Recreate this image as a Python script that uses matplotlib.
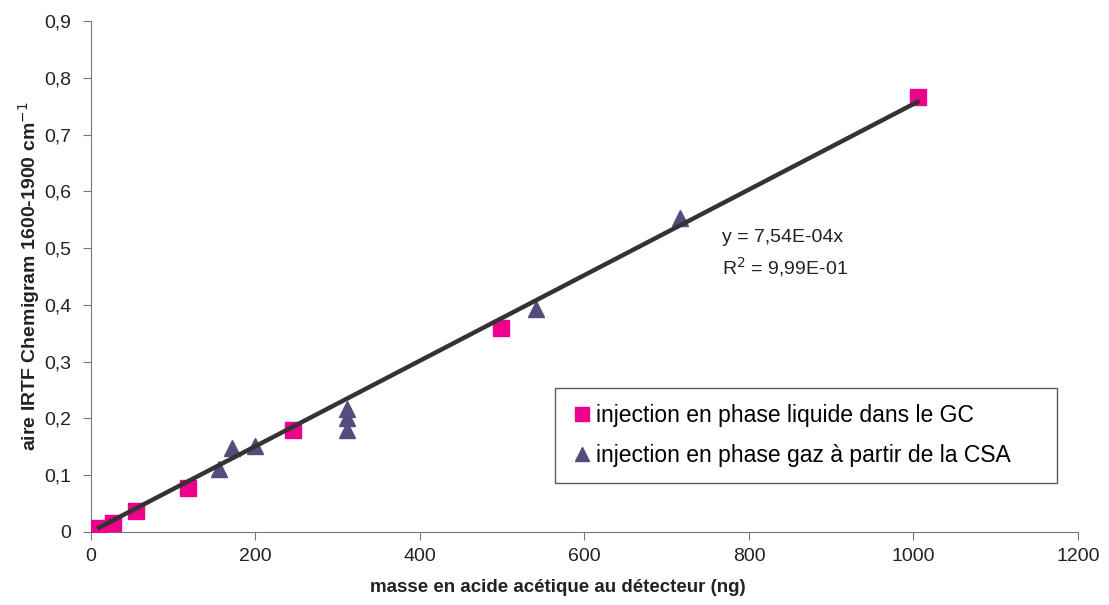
import numpy as np
import matplotlib.pyplot as plt
from matplotlib.ticker import FuncFormatter

plt.rcParams['font.family'] = ['Liberation Sans', 'DejaVu Sans']

# injection en phase liquide dans le GC
liq_x = [10, 27, 55, 118, 246, 498, 1005]
liq_y = [0.007, 0.015, 0.037, 0.077, 0.180, 0.359, 0.766]

# injection en phase gaz a partir de la CSA
gaz_x = [156, 171, 200, 311, 311, 311, 541, 716]
gaz_y = [0.110, 0.148, 0.152, 0.217, 0.200, 0.180, 0.393, 0.553]

pente = 7.54e-4

fig = plt.figure(figsize=(11.09, 6.05), dpi=100)
ax = fig.add_axes([0.082, 0.121, 0.890, 0.844])

ax.plot(liq_x, liq_y, 's', color='#EC008C', markersize=11.5, zorder=3,
        label='injection en phase liquide dans le GC')
ax.plot(gaz_x, gaz_y, '^', color='#524D7D', markersize=12, zorder=3,
        label='injection en phase gaz à partir de la CSA')

xl = np.array([min(liq_x), max(liq_x)])
ax.plot(xl, pente * xl, color='#333333', lw=3.2, zorder=4)

ax.text(767, 0.511, 'y = 7,54E-04x', fontsize=14, color='#222222')
ax.text(767, 0.454, 'R$^2$ = 9,99E-01', fontsize=14, color='#222222')

ax.set_xlim(0, 1200)
ax.set_ylim(0, 0.9)
ax.set_xticks(np.arange(0, 1201, 200))
ax.set_yticks(np.arange(0, 0.91, 0.1))
ax.yaxis.set_major_formatter(FuncFormatter(lambda v, p: ('%.1f' % v).replace('.', ',') if v > 0.001 else '0'))
ax.tick_params(labelsize=14, direction='out', length=6, color='#777777', labelcolor='#222222')
ax.tick_params(axis='y', pad=8)
ax.tick_params(axis='x', pad=6)

for s in ['top', 'right']:
    ax.spines[s].set_visible(False)
for s in ['left', 'bottom']:
    ax.spines[s].set_color('#777777')

ax.set_xlabel('masse en acide acétique au détecteur (ng)', fontsize=13.5, fontweight='bold', color='#222222')
ax.set_ylabel('aire IRTF Chemigram 1600-1900 cm$^{-1}$', fontsize=14, fontweight='bold', color='#222222')
ax.xaxis.set_label_coords(0.473, -0.092)
ax.yaxis.set_label_coords(-0.050, 0.5)

leg = ax.legend(loc='upper left', bbox_to_anchor=(0.470, 0.182, 0.509, 0.1), mode='expand',
                borderaxespad=0, fontsize=16.5,
                frameon=True, fancybox=False, edgecolor='#333333', handletextpad=0.1,
                handlelength=1.0, labelspacing=0.75, borderpad=0.7, markerscale=0.85)
leg.get_frame().set_linewidth(1)

fig.savefig('out.png', dpi=100)
